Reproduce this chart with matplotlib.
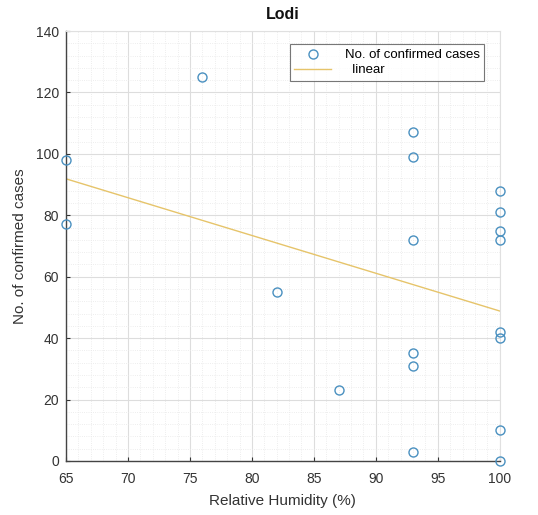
import numpy as np
import matplotlib
matplotlib.use("Agg")
import matplotlib.pyplot as plt
from matplotlib.ticker import MultipleLocator

plt.rcParams['font.family'] = ['Liberation Sans', 'DejaVu Sans']

# relative humidity (%) and daily confirmed cases for Lodi
humidity = [65, 65, 76, 82, 87, 93, 93, 93, 93, 93, 93,
            100, 100, 100, 100, 100, 100, 100, 100]
cases = [98, 77, 125, 55, 23, 107, 99, 72, 35, 31, 3,
         88, 81, 75, 72, 42, 40, 10, 0]

x_ticks = [65, 70, 75, 80, 85, 90, 95, 100]
y_ticks = [0, 20, 40, 60, 80, 100, 120, 140]

blue = '#4a90c0'
gold = '#e6c46a'
ink = '#333333'

fig = plt.figure(figsize=(5.38, 5.15), dpi=100)
ax = fig.add_axes([0.1227, 0.1049, 0.8063, 0.8349])

# least-squares line through the points
slope, icpt = np.polyfit(humidity, cases, 1)
xf = np.array([min(humidity), max(humidity)])

ax.plot(humidity, cases, 'o', ms=6.5, mfc='none', mec=blue, mew=1.0,
        label='No. of confirmed cases', zorder=3, clip_on=False)
ax.plot(xf, slope * xf + icpt, '-', color=gold, lw=1.0, label='  linear', zorder=2)

ax.set_xlim(65, 100)
ax.set_ylim(0, 140)
ax.set_xticks(x_ticks)
ax.set_yticks(y_ticks)
ax.xaxis.set_minor_locator(MultipleLocator(1))
ax.yaxis.set_minor_locator(MultipleLocator(4))

ax.grid(which='major', color='#dddddd', lw=0.8)
ax.grid(which='minor', color='#e8e8e8', lw=0.6, ls=':')
ax.set_axisbelow(True)

ax.tick_params(which='both', direction='in', colors=ink, labelsize=10)
ax.tick_params(which='minor', length=0)
ax.tick_params(which='major', length=3, top=False, right=False)
ax.tick_params(axis='x', pad=8)
ax.tick_params(axis='y', pad=5)
for side in ['left', 'bottom']:
    ax.spines[side].set_color('#444444')
    ax.spines[side].set_linewidth(1.0)
for side in ['top', 'right']:
    ax.spines[side].set_color('#e0e0e0')
    ax.spines[side].set_linewidth(0.8)

ax.set_title('Lodi', fontsize=11.5, fontweight='bold', color='#111111', pad=9)
ax.set_xlabel('Relative Humidity (%)', fontsize=11, color=ink, labelpad=6)
ax.set_ylabel('No. of confirmed cases', fontsize=11, color=ink, labelpad=6)

leg = ax.legend(loc='upper right', bbox_to_anchor=(0.97, 0.975), fontsize=9.5,
                frameon=True, fancybox=False, edgecolor='#555555',
                handlelength=2.8, borderpad=0.35, labelspacing=0.2,
                handletextpad=1.0, borderaxespad=0.2)
leg.get_frame().set_linewidth(0.8)

fig.savefig('out.png', dpi=100, facecolor='white')
